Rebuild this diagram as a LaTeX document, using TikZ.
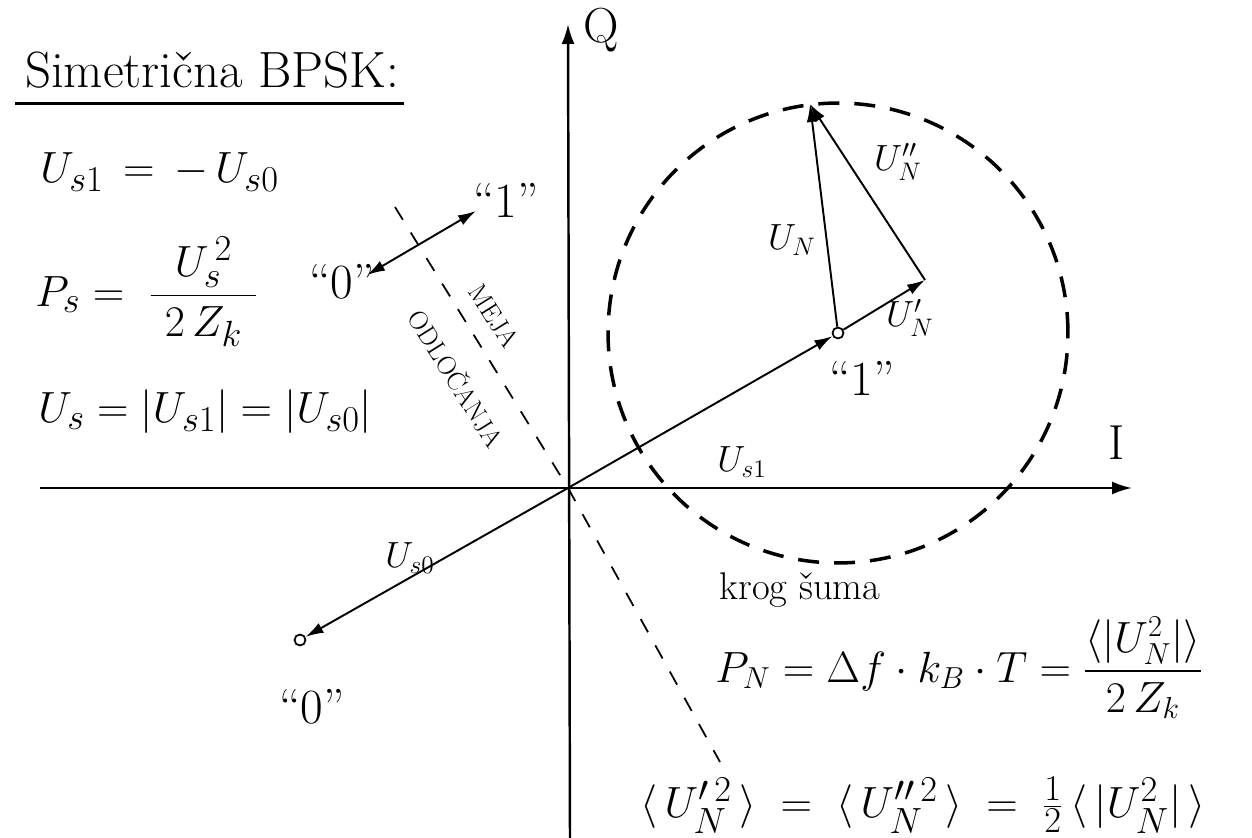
\documentclass[tikz,border=0pt]{standalone}
\usepackage{fontspec}
\usepackage{amsmath}
\usepackage{tikz}
\usetikzlibrary{arrows.meta, positioning}

\begin{document}
\begin{tikzpicture}[
    x=0.02cm, y=-0.02cm,
    axis/.style={-{Latex[length=4mm,width=2.6mm]}, line width=1.4pt},
    vec/.style={-{Latex[length=3.6mm,width=2.2mm]}, line width=1.1pt},
    dblvec/.style={{Latex[length=3.6mm,width=2.2mm]}-{Latex[length=3.6mm,width=2.2mm]}, line width=1.1pt},
    noise/.style={line width=2pt, dash pattern=on 0.42cm off 0.3cm},
    border/.style={line width=1pt, dash pattern=on 0.3cm off 0.3cm},
    pt/.style={circle, draw, line width=1pt, inner sep=0pt, minimum size=2.2mm},
    title/.style={font=\fontsize{29}{34}\selectfont, inner sep=0pt},
    eq/.style={font=\fontsize{29}{34}\selectfont, inner sep=0pt},
    eqm/.style={font=\fontsize{24}{28}\selectfont, inner sep=0pt},
    eqs/.style={font=\fontsize{22}{26}\selectfont, inner sep=0pt},
    vlab/.style={font=\fontsize{20}{24}\selectfont, inner sep=1pt},
    plab/.style={font=\fontsize{28}{32}\selectfont, inner sep=1pt},
    mlab/.style={font=\fontsize{15}{18}\selectfont, inner sep=0pt, rotate=-58}
]
\useasboundingbox (0,0) rectangle (1252,838);

% Axes
\coordinate (Ileft)  at (40,488);
\coordinate (Iright) at (1132,488);
\coordinate (Qbot)   at (570,838);
\coordinate (Qtop)   at (568,24);
\draw[axis] (Ileft) -- (Iright);
\draw[axis] (Qbot) -- (Qtop);
\node[plab] (ilab) at (1117,443) {I};
\node[plab] (qlab) at (601,30) {Q};

% Signal points
\coordinate (O) at (568,488);
\node[pt] (p1) at (838,333) {};
\node[pt] (p0) at (300,640) {};
\coordinate (tip) at (925,280);
\coordinate (top) at (810,104);

% Noise circle and decision boundary
\draw[noise] (p1.center) circle (4.6cm);
\coordinate (b1) at (395,207);
\coordinate (b2) at (720,762);
\draw[border] (b1) -- (O) -- (b2);

% Vectors
\draw[vec] (O) -- (p1);
\draw[vec] (O) -- (p0);
\draw[vec] (p1) -- (tip);
\draw[vec] (p1) -- (top);
\draw[vec] (tip) -- (top);
\node[vlab] (us1) at (742,462) {$U_{s1}$};
\node[vlab] (us0) at (410,558) {$U_{s0}$};
\node[vlab] (un)  at (792,240) {$U_N$};
\node[vlab] (unb) at (898,162) {$U_N''$};
\node[vlab] (una) at (910,318) {$U_N'$};
\node[plab] (l1) at (862,378) {``1''};
\node[plab] (l0) at (312,707) {``0''};

% Decision between "0" and "1"
\node[plab] (m0) at (342,282) {``0''};
\node[plab] (m1) at (506,200) {``1''};
\coordinate (d0) at (367,275);
\coordinate (d1) at (476,211);
\draw[dblvec] (d0) -- (d1);
\node[mlab] (meja) at (494,316) {MEJA};
\node[mlab] (odl)  at (457,378) {ODLOČANJA};
\node[eqs] (krog) at (800,590) {krog šuma};

% Equations
\node[title] (tit) at (212,70) {Simetrična BPSK:};
\draw[line width=1.3pt] ([xshift=-0.2cm,yshift=-0.3cm]tit.south west) -- ([xshift=0.1cm,yshift=-0.3cm]tit.south east);
\node[eq, anchor=west] (e1) at (40,172) {$U_{s1} \,=\, -\,U_{s0}$};
\node[eq, anchor=west] (e2) at (35,292) {$P_s = \;\dfrac{\;\;U_s^{\,2}\;\;}{2\,Z_k}$};
\node[eq, anchor=west] (e3) at (38,412) {$U_s = |U_{s1}| = |U_{s0}|$};
\node[eqm, anchor=west] (e4) at (715,668) {$P_N = \Delta f\cdot k_B\cdot T = \dfrac{\langle|U_N^2|\rangle}{2\,Z_k}$};
\node[eq, anchor=west] (e5) at (640,805) {$\langle\, U_N'^{\,2}\,\rangle \;=\; \langle\, U_N''^{\,2}\,\rangle \;=\; \tfrac{1}{2}\,\langle\,|U_N^2|\,\rangle$};
\end{tikzpicture}
\end{document}
